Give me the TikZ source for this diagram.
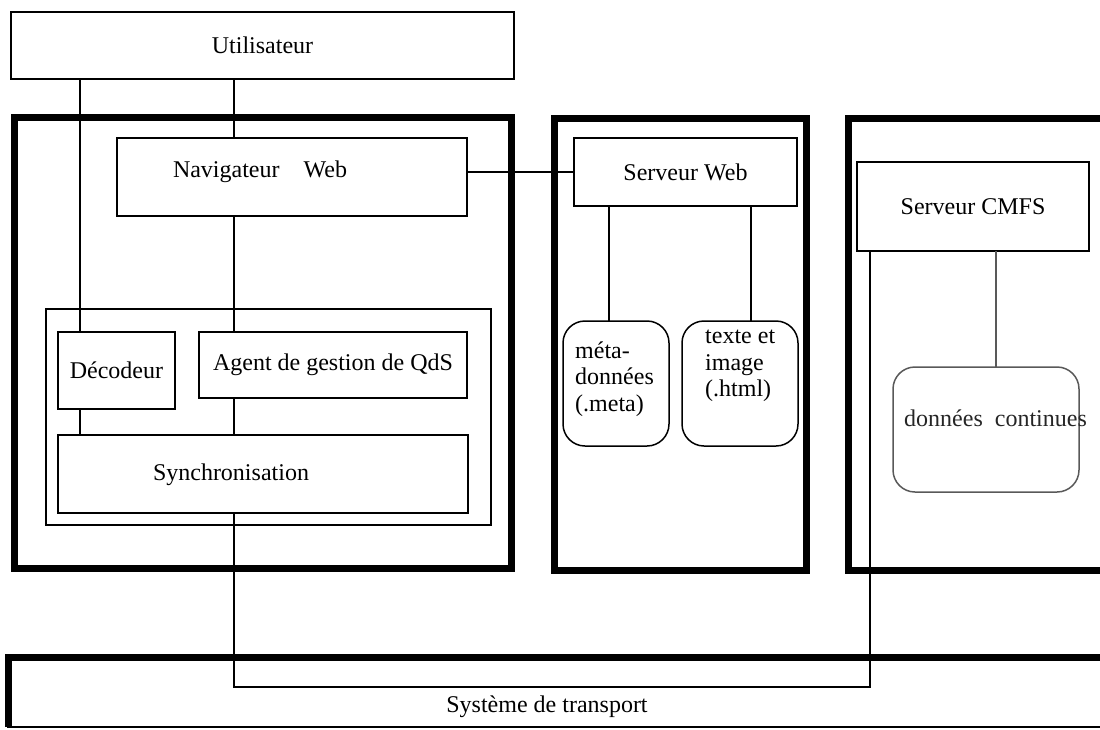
\documentclass[tikz,border=0pt]{standalone}
\usepackage{fontspec}
\setmainfont{Liberation Serif}
\usetikzlibrary{calc}

\begin{document}
\begin{tikzpicture}[x=1pt,y=-1pt,every node/.style={font=\fontsize{24}{26.5}\selectfont}]
\tikzstyle{boite}=[draw,line width=1.5pt,inner sep=0pt,outer sep=0pt]
\tikzstyle{cadre}=[draw,line width=7pt,inner sep=0pt,outer sep=0pt]
\tikzstyle{fichier}=[boite,rounded corners=22pt]
\tikzstyle{lien}=[line width=1.5pt]
\useasboundingbox (0,0) rectangle (1100,729);
\clip (0,0) rectangle (1100,729);

% Cadres epais (client, serveur web, serveur CMFS)
\node (client) [cadre,minimum width=497pt,minimum height=451pt] at (262.5,342.5) {};
\node (siteweb) [cadre,minimum width=252pt,minimum height=452pt] at (680,344) {};
\node (sitecmfs) [cadre,minimum width=282pt,minimum height=452pt] at (989,344) {};

% Utilisateur et client
\node (util) [boite,minimum width=503pt,minimum height=67pt] at (262.5,45.5) {Utilisateur};
\node (nav) [boite,minimum width=350pt,minimum height=78pt] at (292,177) {};
\node (navtxt) at (260,172) {Navigateur\quad Web};
\node (interne) [boite,minimum width=445pt,minimum height=216pt] at (268.5,417) {};
\node (deco) [boite,minimum width=117pt,minimum height=77pt] at (116.5,370.5) {D\'ecodeur};
\node (agent) [boite,minimum width=268pt,minimum height=66pt] at (333,365) {Agent de gestion de QdS};
\node (sync) [boite,minimum width=410pt,minimum height=78pt] at (263,474) {};
\node (synctxt) at (231,475) {Synchronisation};

% Serveur web
\node (web) [boite,minimum width=223pt,minimum height=68pt] at (685.5,172) {Serveur Web};
\node (meta) [fichier,minimum width=106pt,minimum height=125pt] at (616,383.5) {};
\node (metatxt) [align=left,anchor=west,inner sep=0pt] at (575,379) {m\'eta-\\donn\'ees\\(.meta)};
\node (texte) [fichier,minimum width=116pt,minimum height=125pt] at (740,383.5) {};
\node (textetxt) [align=left,anchor=west,inner sep=0pt] at (705,366) {texte et\\image\\(.html)};

% Serveur CMFS
\node (cmfs) [boite,minimum width=232pt,minimum height=89pt] at (973,206.5) {Serveur CMFS};
\node (donnees) [fichier,draw=black!65,minimum width=186pt,minimum height=125pt] at (986,429.5) {};
\node (donneestxt) [anchor=west,inner sep=0pt,text=black!85] at (904,418) {donn\'ees\enspace continues};

% Systeme de transport
\node (transport) [boite,minimum width=1122pt,minimum height=70pt] at (569,692) {};
\draw[line width=7pt] (transport.south west) -- (transport.north west) -- (transport.north east);
\node (transptxt) at (547,707) {Syst\`eme de transport};

% Liaisons
\coordinate (xl) at (80,0);
\coordinate (xm) at (234,0);
\coordinate (xr) at (870,0);
\coordinate (xa) at (609,0);
\coordinate (xb) at (751,0);
\coordinate (xc) at (996,0);
\coordinate (ty) at (0,687);

\draw[lien] (util.south -| xl) -- (deco.north -| xl);
\draw[lien] (deco.south -| xl) -- (sync.north -| xl);
\draw[lien] (util.south -| xm) -- (nav.north -| xm);
\draw[lien] (nav.south -| xm) -- (agent.north -| xm);
\draw[lien] (agent.south -| xm) -- (sync.north -| xm);
\draw[lien] (sync.south -| xm) -- (xm |- ty) -- (xr |- ty) -- (cmfs.south -| xr);
\draw[lien] (nav.east |- web.west) -- (web.west);
\draw[lien] (web.south -| xa) -- (meta.north -| xa);
\draw[lien] (web.south -| xb) -- (texte.north -| xb);
\draw[lien,black!65] (cmfs.south -| xc) -- (donnees.north -| xc);

\end{tikzpicture}
\end{document}
